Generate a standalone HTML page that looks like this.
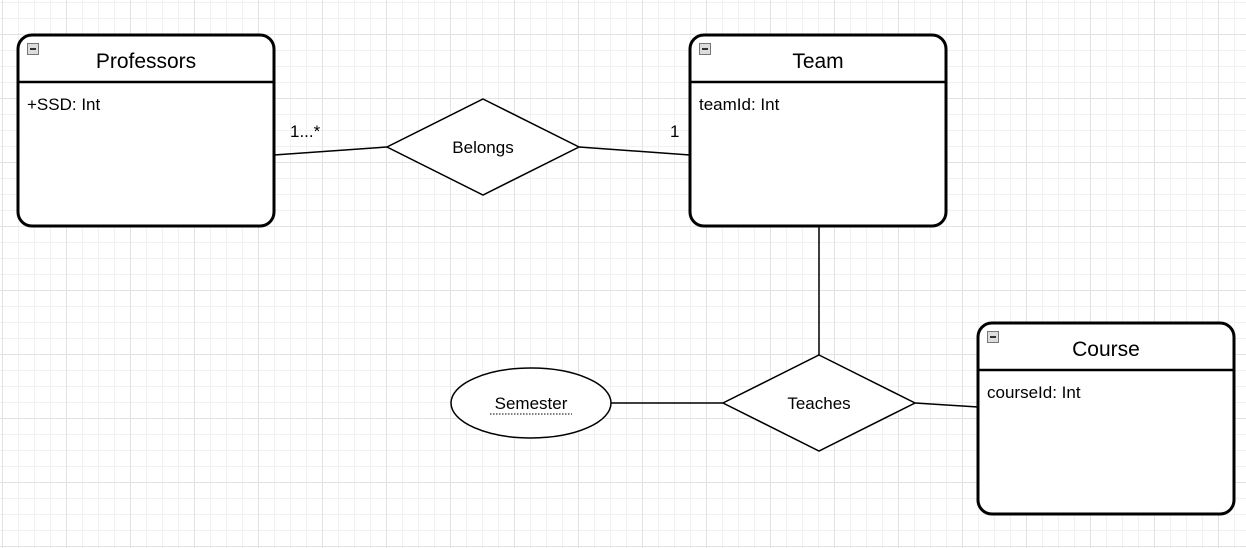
<!DOCTYPE html>
<html><head><style>
html,body{margin:0;padding:0;}
body{width:1246px;height:548px;overflow:hidden;background:#fff;
background-image:
linear-gradient(to right,#e2e2e2 1px,transparent 1px),
linear-gradient(to bottom,#e2e2e2 1px,transparent 1px),
linear-gradient(to right,#f1f1f1 1px,transparent 1px),
linear-gradient(to bottom,#f1f1f1 1px,transparent 1px);
background-size:64px 64px,64px 64px,16px 16px,16px 16px;
background-position:2px 34px,2px 34px,2px 34px,2px 34px;
font-family:"Liberation Sans",Arial,sans-serif;}
</style></head><body>
<svg width="1246" height="548" style="position:absolute;left:0;top:0" font-family="Liberation Sans, Arial, sans-serif">
<g stroke="#000" stroke-width="1.5" fill="none">
<line x1="274" y1="155" x2="387" y2="147"/>
<line x1="579" y1="147" x2="690" y2="155"/>
<line x1="819" y1="226" x2="819" y2="355"/>
<line x1="611" y1="403" x2="723" y2="403"/>
<line x1="915" y1="403" x2="978" y2="407"/>
</g>
<g stroke="#000" stroke-width="3" fill="#fff">
<rect x="18" y="35" width="256" height="191" rx="14"/>
<rect x="690" y="35" width="256" height="191" rx="14"/>
<rect x="978" y="323" width="256" height="191" rx="14"/>
</g>
<g stroke="#000" stroke-width="2.5">
<line x1="18" y1="82" x2="274" y2="82"/>
<line x1="690" y1="82" x2="946" y2="82"/>
<line x1="978" y1="370" x2="1234" y2="370"/>
</g>
<g fill="#ddd" stroke="#777" stroke-width="1">
<rect x="27.5" y="43.5" width="11" height="11"/>
<rect x="699.5" y="43.5" width="11" height="11"/>
<rect x="987.5" y="331.5" width="11" height="11"/>
</g>
<g stroke="#333" stroke-width="2">
<line x1="30" y1="49" x2="36" y2="49"/>
<line x1="702" y1="49" x2="708" y2="49"/>
<line x1="990" y1="337" x2="996" y2="337"/>
</g>
<g stroke="#000" stroke-width="1.5" fill="#fff">
<polygon points="483,99 579,147 483,195 387,147"/>
<polygon points="819,355 915,403 819,451 723,403"/>
<ellipse cx="531" cy="403" rx="80" ry="35"/>
</g>
<g font-size="21" text-anchor="middle" fill="#000">
<text x="146" y="68">Professors</text>
<text x="818" y="68">Team</text>
<text x="1106" y="356">Course</text>
</g>
<g font-size="17" fill="#000">
<text x="27" y="110">+SSD: Int</text>
<text x="699" y="110">teamId: Int</text>
<text x="987" y="398">courseId: Int</text>
<text x="290" y="137">1...*</text>
<text x="670" y="137">1</text>
<text x="483" y="153" text-anchor="middle">Belongs</text>
<text x="819" y="409" text-anchor="middle">Teaches</text>
<text x="531" y="409" text-anchor="middle">Semester</text>
</g>
<line x1="490" y1="414" x2="572" y2="414" stroke="#000" stroke-width="1" stroke-dasharray="1.5,1.5"/>
</svg>
</body></html>
